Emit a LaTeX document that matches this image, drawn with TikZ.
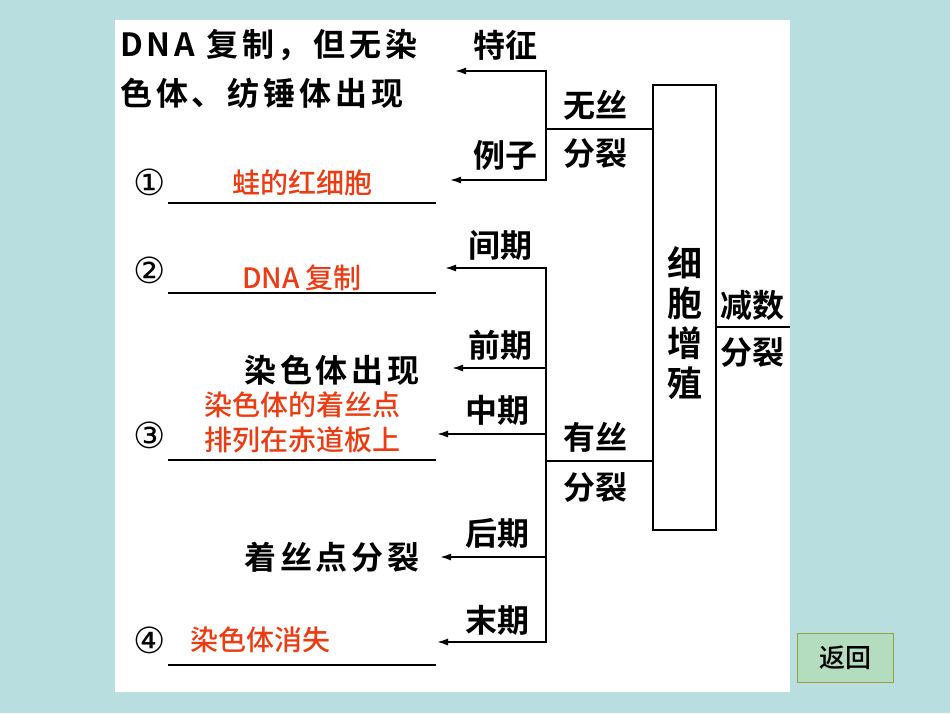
\documentclass[tikz,border=0pt]{standalone}
\usepackage{fontspec}
\usetikzlibrary{arrows.meta}
\newfontfamily\cjk{Noto Sans CJK SC Medium}
\newfontfamily\cjkb{Noto Sans CJK SC Bold}
\newfontfamily\cjkh[LetterSpace=12]{Noto Sans CJK SC Bold}
\newfontfamily\sym{DejaVu Sans}
\begin{document}
\begin{tikzpicture}[x=1pt,y=-1pt,
  ln/.style={line width=1.6pt},
  ar/.style={ln,-{Latex[length=11pt,width=7pt]}},
  bk/.style={font=\cjkb\fontsize{32}{34}\selectfont},
  rd/.style={font=\cjk\fontsize{28}{30}\selectfont,text={rgb,255:red,235;green,60;blue,20}},
  cc/.style={font=\sym\fontsize{36}{38}\selectfont},
  ul/.style={line width=1.2pt}]
\useasboundingbox (0,0) rectangle (950,713);
\fill[fill={rgb,255:red,184;green,222;blue,224}] (0,0) rectangle (950,713);
\fill[white] (115,20) rectangle (790,692);
% box
\draw[ln] (653,85) rectangle (716,530);
\node[font=\cjkb\fontsize{35}{38}\selectfont,align=center] (box) at (685,323) {细\\[2pt]胞\\[2pt]增\\[2pt]殖};
% coordinates
\coordinate (wA) at (546,129); \coordinate (wB) at (653,129);
\coordinate (yA) at (546,461); \coordinate (yB) at (653,461);
\coordinate (jA) at (716,327); \coordinate (jB) at (790,327);
\draw[ln] (wA)--(wB); \draw[ln] (yA)--(yB); \draw[ln] (jA)--(jB);
\draw[ln] (546,71)--(546,180);
\draw[ln] (546,268)--(546,642);
\coordinate (t1) at (455,71); \coordinate (t2) at (450,180);
\coordinate (p1) at (445,268); \coordinate (p2) at (452,368); \coordinate (p3) at (437,434);
\coordinate (p4) at (440,557); \coordinate (p5) at (437,642);
\draw[ar] (547,71)--(t1); \draw[ar] (547,180)--(t2);
\draw[ar] (547,268)--(p1); \draw[ar] (547,368)--(p2); \draw[ar] (547,434)--(p3);
\draw[ar] (547,557)--(p4); \draw[ar] (547,642)--(p5);
% underlines
\foreach \y in {203,293,460,665} \draw[ul] (168,\y)--(436,\y);
% texts
\node[font=\cjkh\fontsize{32}{34}\selectfont,anchor=west,inner sep=0pt] (h1) at (120,45) {DNA 复制，但无染};
\node[font=\cjkh\fontsize{32}{34}\selectfont,anchor=west,inner sep=0pt] (h2) at (120,93) {色体、纺锤体出现};
\node[bk] (tz) at (505,45) {特征};
\node[bk] (lz) at (505,155) {例子};
\node[bk] (wa) at (595,105) {无丝};
\node[bk] (wb) at (595,153) {分裂};
\node[bk] (ya) at (595,437) {有丝};
\node[bk] (yb) at (595,487) {分裂};
\node[bk] (ja) at (752,305) {减数};
\node[bk] (jb) at (752,352) {分裂};
\node[bk] (q1) at (500,245) {间期};
\node[bk] (q2) at (500,345) {前期};
\node[bk] (q3) at (497,410) {中期};
\node[bk] (q4) at (497,533) {后期};
\node[bk] (q5) at (497,620) {末期};
\node[cc] (c1) at (150,182) {①};
\node[cc] (c2) at (150,270) {②};
\node[cc] (c3) at (150,435) {③};
\node[cc] (c4) at (150,640) {④};
\node[font=\cjkh\fontsize{32}{34}\selectfont] (s1) at (332,370) {染色体出现};
\node[font=\cjkh\fontsize{32}{34}\selectfont] (s2) at (332,557) {着丝点分裂};
\node[rd] (r1) at (302,183) {蛙的红细胞};
\node[rd] (r2) at (302,278) {DNA 复制};
\node[rd] (r3) at (302,405) {染色体的着丝点};
\node[rd] (r4) at (302,440) {排列在赤道板上};
\node[rd] (r5) at (260,640) {染色体消失};
\node[draw={rgb,255:red,150;green,160;blue,60},line width=1pt,fill={rgb,255:red,180;green,220;blue,190},minimum width=96pt,minimum height=49pt,font=\cjk\fontsize{26}{28}\selectfont] (back) at (845,657.5) {返回};
\end{tikzpicture}
\end{document}
